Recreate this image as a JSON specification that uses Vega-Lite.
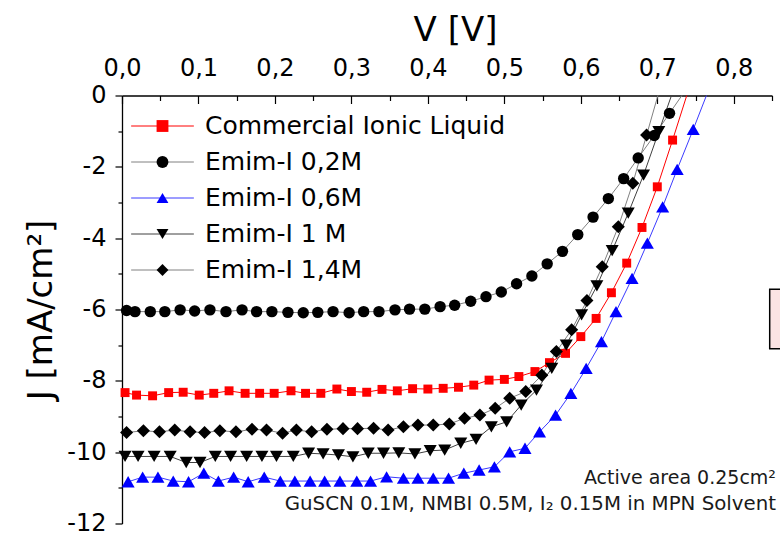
{
  "$schema": "https://vega.github.io/schema/vega-lite/v6.json",
  "width": 650,
  "height": 428,
  "autosize": {"type": "none"},
  "padding": {"left": 122, "top": 95.5, "right": 8, "bottom": 12.5},
  "background": "white",
  "config": {"view": {"stroke": null}, "font": "DejaVu Sans"},
  "datasets": {
    "jv": [
      {"s": "Commercial Ionic Liquid", "V": 0.004, "J": -8.33},
      {"s": "Commercial Ionic Liquid", "V": 0.019, "J": -8.40},
      {"s": "Commercial Ionic Liquid", "V": 0.040, "J": -8.42},
      {"s": "Commercial Ionic Liquid", "V": 0.061, "J": -8.33},
      {"s": "Commercial Ionic Liquid", "V": 0.080, "J": -8.32},
      {"s": "Commercial Ionic Liquid", "V": 0.101, "J": -8.40},
      {"s": "Commercial Ionic Liquid", "V": 0.120, "J": -8.35},
      {"s": "Commercial Ionic Liquid", "V": 0.140, "J": -8.28},
      {"s": "Commercial Ionic Liquid", "V": 0.161, "J": -8.35},
      {"s": "Commercial Ionic Liquid", "V": 0.180, "J": -8.35},
      {"s": "Commercial Ionic Liquid", "V": 0.199, "J": -8.35},
      {"s": "Commercial Ionic Liquid", "V": 0.221, "J": -8.28},
      {"s": "Commercial Ionic Liquid", "V": 0.240, "J": -8.35},
      {"s": "Commercial Ionic Liquid", "V": 0.260, "J": -8.35},
      {"s": "Commercial Ionic Liquid", "V": 0.281, "J": -8.23},
      {"s": "Commercial Ionic Liquid", "V": 0.300, "J": -8.30},
      {"s": "Commercial Ionic Liquid", "V": 0.320, "J": -8.32},
      {"s": "Commercial Ionic Liquid", "V": 0.340, "J": -8.24},
      {"s": "Commercial Ionic Liquid", "V": 0.360, "J": -8.28},
      {"s": "Commercial Ionic Liquid", "V": 0.380, "J": -8.22},
      {"s": "Commercial Ionic Liquid", "V": 0.400, "J": -8.23},
      {"s": "Commercial Ionic Liquid", "V": 0.420, "J": -8.21},
      {"s": "Commercial Ionic Liquid", "V": 0.440, "J": -8.18},
      {"s": "Commercial Ionic Liquid", "V": 0.460, "J": -8.12},
      {"s": "Commercial Ionic Liquid", "V": 0.480, "J": -7.98},
      {"s": "Commercial Ionic Liquid", "V": 0.500, "J": -7.96},
      {"s": "Commercial Ionic Liquid", "V": 0.519, "J": -7.88},
      {"s": "Commercial Ionic Liquid", "V": 0.540, "J": -7.74},
      {"s": "Commercial Ionic Liquid", "V": 0.559, "J": -7.49},
      {"s": "Commercial Ionic Liquid", "V": 0.580, "J": -7.23},
      {"s": "Commercial Ionic Liquid", "V": 0.600, "J": -6.76},
      {"s": "Commercial Ionic Liquid", "V": 0.620, "J": -6.25},
      {"s": "Commercial Ionic Liquid", "V": 0.640, "J": -5.53},
      {"s": "Commercial Ionic Liquid", "V": 0.660, "J": -4.70},
      {"s": "Commercial Ionic Liquid", "V": 0.680, "J": -3.70},
      {"s": "Commercial Ionic Liquid", "V": 0.700, "J": -2.56},
      {"s": "Commercial Ionic Liquid", "V": 0.720, "J": -1.25},
      {"s": "Commercial Ionic Liquid", "V": 0.740, "J": 0.10},

      {"s": "Emim-I 0,2M", "V": 0.006, "J": -6.03},
      {"s": "Emim-I 0,2M", "V": 0.017, "J": -6.06},
      {"s": "Emim-I 0,2M", "V": 0.037, "J": -6.06},
      {"s": "Emim-I 0,2M", "V": 0.056, "J": -6.06},
      {"s": "Emim-I 0,2M", "V": 0.076, "J": -6.01},
      {"s": "Emim-I 0,2M", "V": 0.095, "J": -6.04},
      {"s": "Emim-I 0,2M", "V": 0.115, "J": -6.01},
      {"s": "Emim-I 0,2M", "V": 0.136, "J": -6.06},
      {"s": "Emim-I 0,2M", "V": 0.157, "J": -6.01},
      {"s": "Emim-I 0,2M", "V": 0.176, "J": -6.06},
      {"s": "Emim-I 0,2M", "V": 0.196, "J": -6.06},
      {"s": "Emim-I 0,2M", "V": 0.217, "J": -6.08},
      {"s": "Emim-I 0,2M", "V": 0.237, "J": -6.09},
      {"s": "Emim-I 0,2M", "V": 0.256, "J": -6.08},
      {"s": "Emim-I 0,2M", "V": 0.276, "J": -6.06},
      {"s": "Emim-I 0,2M", "V": 0.297, "J": -6.09},
      {"s": "Emim-I 0,2M", "V": 0.316, "J": -6.06},
      {"s": "Emim-I 0,2M", "V": 0.336, "J": -6.06},
      {"s": "Emim-I 0,2M", "V": 0.357, "J": -6.01},
      {"s": "Emim-I 0,2M", "V": 0.376, "J": -5.99},
      {"s": "Emim-I 0,2M", "V": 0.396, "J": -5.99},
      {"s": "Emim-I 0,2M", "V": 0.416, "J": -5.92},
      {"s": "Emim-I 0,2M", "V": 0.435, "J": -5.88},
      {"s": "Emim-I 0,2M", "V": 0.456, "J": -5.77},
      {"s": "Emim-I 0,2M", "V": 0.476, "J": -5.64},
      {"s": "Emim-I 0,2M", "V": 0.496, "J": -5.51},
      {"s": "Emim-I 0,2M", "V": 0.516, "J": -5.28},
      {"s": "Emim-I 0,2M", "V": 0.536, "J": -5.06},
      {"s": "Emim-I 0,2M", "V": 0.556, "J": -4.72},
      {"s": "Emim-I 0,2M", "V": 0.576, "J": -4.37},
      {"s": "Emim-I 0,2M", "V": 0.596, "J": -3.90},
      {"s": "Emim-I 0,2M", "V": 0.616, "J": -3.41},
      {"s": "Emim-I 0,2M", "V": 0.636, "J": -2.89},
      {"s": "Emim-I 0,2M", "V": 0.656, "J": -2.33},
      {"s": "Emim-I 0,2M", "V": 0.675, "J": -1.75},
      {"s": "Emim-I 0,2M", "V": 0.696, "J": -1.12},
      {"s": "Emim-I 0,2M", "V": 0.716, "J": -0.50},
      {"s": "Emim-I 0,2M", "V": 0.736, "J": 0.12},

      {"s": "Emim-I 0,6M", "V": 0.008, "J": -10.83},
      {"s": "Emim-I 0,6M", "V": 0.027, "J": -10.70},
      {"s": "Emim-I 0,6M", "V": 0.047, "J": -10.70},
      {"s": "Emim-I 0,6M", "V": 0.067, "J": -10.81},
      {"s": "Emim-I 0,6M", "V": 0.087, "J": -10.83},
      {"s": "Emim-I 0,6M", "V": 0.107, "J": -10.59},
      {"s": "Emim-I 0,6M", "V": 0.126, "J": -10.81},
      {"s": "Emim-I 0,6M", "V": 0.146, "J": -10.70},
      {"s": "Emim-I 0,6M", "V": 0.165, "J": -10.83},
      {"s": "Emim-I 0,6M", "V": 0.186, "J": -10.70},
      {"s": "Emim-I 0,6M", "V": 0.207, "J": -10.81},
      {"s": "Emim-I 0,6M", "V": 0.226, "J": -10.81},
      {"s": "Emim-I 0,6M", "V": 0.246, "J": -10.81},
      {"s": "Emim-I 0,6M", "V": 0.265, "J": -10.81},
      {"s": "Emim-I 0,6M", "V": 0.285, "J": -10.81},
      {"s": "Emim-I 0,6M", "V": 0.307, "J": -10.81},
      {"s": "Emim-I 0,6M", "V": 0.325, "J": -10.81},
      {"s": "Emim-I 0,6M", "V": 0.346, "J": -10.69},
      {"s": "Emim-I 0,6M", "V": 0.368, "J": -10.73},
      {"s": "Emim-I 0,6M", "V": 0.387, "J": -10.73},
      {"s": "Emim-I 0,6M", "V": 0.407, "J": -10.73},
      {"s": "Emim-I 0,6M", "V": 0.427, "J": -10.73},
      {"s": "Emim-I 0,6M", "V": 0.447, "J": -10.59},
      {"s": "Emim-I 0,6M", "V": 0.467, "J": -10.50},
      {"s": "Emim-I 0,6M", "V": 0.487, "J": -10.41},
      {"s": "Emim-I 0,6M", "V": 0.507, "J": -9.99},
      {"s": "Emim-I 0,6M", "V": 0.527, "J": -9.89},
      {"s": "Emim-I 0,6M", "V": 0.546, "J": -9.43},
      {"s": "Emim-I 0,6M", "V": 0.567, "J": -8.96},
      {"s": "Emim-I 0,6M", "V": 0.587, "J": -8.35},
      {"s": "Emim-I 0,6M", "V": 0.607, "J": -7.65},
      {"s": "Emim-I 0,6M", "V": 0.627, "J": -6.90},
      {"s": "Emim-I 0,6M", "V": 0.646, "J": -6.06},
      {"s": "Emim-I 0,6M", "V": 0.667, "J": -5.13},
      {"s": "Emim-I 0,6M", "V": 0.687, "J": -4.14},
      {"s": "Emim-I 0,6M", "V": 0.707, "J": -3.12},
      {"s": "Emim-I 0,6M", "V": 0.726, "J": -2.07},
      {"s": "Emim-I 0,6M", "V": 0.747, "J": -0.95},
      {"s": "Emim-I 0,6M", "V": 0.767, "J": 0.15},

      {"s": "Emim-I 1 M", "V": 0.004, "J": -10.12},
      {"s": "Emim-I 1 M", "V": 0.021, "J": -10.12},
      {"s": "Emim-I 1 M", "V": 0.042, "J": -10.12},
      {"s": "Emim-I 1 M", "V": 0.063, "J": -10.12},
      {"s": "Emim-I 1 M", "V": 0.084, "J": -10.29},
      {"s": "Emim-I 1 M", "V": 0.102, "J": -10.29},
      {"s": "Emim-I 1 M", "V": 0.122, "J": -10.12},
      {"s": "Emim-I 1 M", "V": 0.142, "J": -10.12},
      {"s": "Emim-I 1 M", "V": 0.163, "J": -10.12},
      {"s": "Emim-I 1 M", "V": 0.183, "J": -10.12},
      {"s": "Emim-I 1 M", "V": 0.202, "J": -10.12},
      {"s": "Emim-I 1 M", "V": 0.224, "J": -10.12},
      {"s": "Emim-I 1 M", "V": 0.244, "J": -10.03},
      {"s": "Emim-I 1 M", "V": 0.263, "J": -10.05},
      {"s": "Emim-I 1 M", "V": 0.283, "J": -10.08},
      {"s": "Emim-I 1 M", "V": 0.302, "J": -10.13},
      {"s": "Emim-I 1 M", "V": 0.322, "J": -10.03},
      {"s": "Emim-I 1 M", "V": 0.342, "J": -10.03},
      {"s": "Emim-I 1 M", "V": 0.362, "J": -10.02},
      {"s": "Emim-I 1 M", "V": 0.383, "J": -10.05},
      {"s": "Emim-I 1 M", "V": 0.403, "J": -9.96},
      {"s": "Emim-I 1 M", "V": 0.422, "J": -9.94},
      {"s": "Emim-I 1 M", "V": 0.443, "J": -9.75},
      {"s": "Emim-I 1 M", "V": 0.463, "J": -9.64},
      {"s": "Emim-I 1 M", "V": 0.483, "J": -9.29},
      {"s": "Emim-I 1 M", "V": 0.503, "J": -9.15},
      {"s": "Emim-I 1 M", "V": 0.522, "J": -8.68},
      {"s": "Emim-I 1 M", "V": 0.542, "J": -8.26},
      {"s": "Emim-I 1 M", "V": 0.562, "J": -7.65},
      {"s": "Emim-I 1 M", "V": 0.581, "J": -7.00},
      {"s": "Emim-I 1 M", "V": 0.601, "J": -6.15},
      {"s": "Emim-I 1 M", "V": 0.621, "J": -5.34},
      {"s": "Emim-I 1 M", "V": 0.641, "J": -4.35},
      {"s": "Emim-I 1 M", "V": 0.662, "J": -3.30},
      {"s": "Emim-I 1 M", "V": 0.682, "J": -2.23},
      {"s": "Emim-I 1 M", "V": 0.702, "J": -1.01},
      {"s": "Emim-I 1 M", "V": 0.722, "J": 0.21},

      {"s": "Emim-I 1,4M", "V": 0.006, "J": -9.45},
      {"s": "Emim-I 1,4M", "V": 0.028, "J": -9.40},
      {"s": "Emim-I 1,4M", "V": 0.049, "J": -9.43},
      {"s": "Emim-I 1,4M", "V": 0.069, "J": -9.38},
      {"s": "Emim-I 1,4M", "V": 0.089, "J": -9.43},
      {"s": "Emim-I 1,4M", "V": 0.108, "J": -9.45},
      {"s": "Emim-I 1,4M", "V": 0.128, "J": -9.40},
      {"s": "Emim-I 1,4M", "V": 0.149, "J": -9.43},
      {"s": "Emim-I 1,4M", "V": 0.170, "J": -9.36},
      {"s": "Emim-I 1,4M", "V": 0.189, "J": -9.38},
      {"s": "Emim-I 1,4M", "V": 0.210, "J": -9.47},
      {"s": "Emim-I 1,4M", "V": 0.228, "J": -9.38},
      {"s": "Emim-I 1,4M", "V": 0.248, "J": -9.43},
      {"s": "Emim-I 1,4M", "V": 0.268, "J": -9.36},
      {"s": "Emim-I 1,4M", "V": 0.289, "J": -9.34},
      {"s": "Emim-I 1,4M", "V": 0.308, "J": -9.34},
      {"s": "Emim-I 1,4M", "V": 0.329, "J": -9.33},
      {"s": "Emim-I 1,4M", "V": 0.348, "J": -9.38},
      {"s": "Emim-I 1,4M", "V": 0.368, "J": -9.29},
      {"s": "Emim-I 1,4M", "V": 0.387, "J": -9.24},
      {"s": "Emim-I 1,4M", "V": 0.407, "J": -9.24},
      {"s": "Emim-I 1,4M", "V": 0.428, "J": -9.21},
      {"s": "Emim-I 1,4M", "V": 0.448, "J": -9.05},
      {"s": "Emim-I 1,4M", "V": 0.468, "J": -8.96},
      {"s": "Emim-I 1,4M", "V": 0.488, "J": -8.77},
      {"s": "Emim-I 1,4M", "V": 0.507, "J": -8.49},
      {"s": "Emim-I 1,4M", "V": 0.528, "J": -8.30},
      {"s": "Emim-I 1,4M", "V": 0.549, "J": -7.84},
      {"s": "Emim-I 1,4M", "V": 0.568, "J": -7.18},
      {"s": "Emim-I 1,4M", "V": 0.588, "J": -6.57},
      {"s": "Emim-I 1,4M", "V": 0.608, "J": -5.75},
      {"s": "Emim-I 1,4M", "V": 0.628, "J": -4.80},
      {"s": "Emim-I 1,4M", "V": 0.649, "J": -3.68},
      {"s": "Emim-I 1,4M", "V": 0.668, "J": -2.46},
      {"s": "Emim-I 1,4M", "V": 0.686, "J": -1.11},
      {"s": "Emim-I 1,4M", "V": 0.706, "J": 0.39}
    ]
  },
  "data": {"name": "jv"},
  "layer": [
    {
      "data": {"values": [{"note": "box"}]},
      "mark": {"type": "rect", "fill": "#fbe3e3", "stroke": "black", "strokeWidth": 1.5, "clip": false},
      "encoding": {
        "x": {"datum": 0.847, "type": "quantitative", "scale": {"domain": [0, 0.85], "nice": false, "zero": false}, "axis": null},
        "x2": {"datum": 0.95},
        "y": {"datum": -5.43, "type": "quantitative", "scale": {"domain": [-12, 0], "nice": false}, "axis": null},
        "y2": {"datum": -7.1}
      }
    },
    {
      "mark": {"type": "line", "clip": true, "strokeWidth": 1},
      "encoding": {
        "x": {
          "field": "V", "type": "quantitative",
          "scale": {"domain": [0, 0.85], "nice": false, "zero": false},
          "axis": {
            "orient": "top",
            "values": [0, 0.1, 0.2, 0.3, 0.4, 0.5, 0.6, 0.7, 0.8],
            "labelExpr": "replace(format(datum.value, '.1f'), '.', ',')",
            "labelFont": "DejaVu Sans", "labelFontSize": 24, "labelColor": "black",
            "labelPadding": 23, "labelFlush": false, "labelOverlap": false,
            "tickSize": -8, "tickColor": "black", "tickWidth": 1.2,
            "domainColor": "black", "domainWidth": 1.3, "grid": false,
            "title": "V [V]", "titleFont": "DejaVu Sans", "titleFontSize": 34,
            "titleFontWeight": "normal", "titleColor": "black", "titlePadding": 9, "titleX": 333
          }
        },
        "y": {
          "field": "J", "type": "quantitative",
          "scale": {"domain": [-12, 0], "nice": false},
          "axis": {
            "orient": "left",
            "values": [0, -2, -4, -6, -8, -10, -12],
            "labelExpr": "datum.value + ''",
            "labelFont": "DejaVu Sans", "labelFontSize": 24, "labelColor": "black",
            "labelPadding": 9, "labelFlush": false, "labelOverlap": false,
            "tickSize": 7, "tickColor": "black", "tickWidth": 1.2,
            "domainColor": "black", "domainWidth": 1.3, "grid": false,
            "title": "J [mA/cm²]", "titleFont": "DejaVu Sans", "titleFontSize": 34,
            "titleFontWeight": "normal", "titleColor": "black", "titlePadding": 8
          }
        },
        "stroke": {
          "field": "s", "type": "nominal",
          "scale": {"range": ["#ff0000", "#808080", "#3b3bff", "#404040", "#808080"]},
          "legend": {
            "orient": "none", "legendX": 10, "legendY": 18, "title": null, "padding": 0,
            "symbolType": "M-5.3,0H5.3", "symbolSize": 140, "symbolStrokeWidth": 1,
            "symbolOffset": 18, "labelOffset": 30, "labelLimit": 400,
            "labelFontSize": 25, "labelOpacity": 0, "rowPadding": 10
          }
        },
        "strokeWidth": {
          "condition": {"test": "datum.s === 'Commercial Ionic Liquid'", "value": 1.6},
          "value": 0.9
        }
      }
    },
    {
      "mark": {"type": "point", "filled": true, "opacity": 1, "strokeWidth": 0},
      "transform": [{"filter": "datum.J <= 0"}],
      "encoding": {
        "x": {
          "field": "V", "type": "quantitative",
          "axis": {
            "orient": "top",
            "values": [0.05, 0.15, 0.25, 0.35, 0.45, 0.55, 0.65, 0.75, 0.85],
            "labels": false, "domain": false, "grid": false, "title": null,
            "tickSize": -5, "tickColor": "black", "tickWidth": 1.2
          }
        },
        "y": {
          "field": "J", "type": "quantitative",
          "axis": {
            "orient": "left",
            "values": [-1, -3, -5, -7, -9, -11],
            "labels": false, "domain": false, "grid": false, "title": null,
            "tickSize": 4, "tickColor": "black", "tickWidth": 1.2
          }
        },
        "fill": {
          "field": "s", "type": "nominal",
          "scale": {
            "domain": ["Commercial Ionic Liquid", "Emim-I 0,2M", "Emim-I 0,6M", "Emim-I 1 M", "Emim-I 1,4M"],
            "range": ["#ff0000", "#000000", "#0000ff", "#000000", "#000000"]
          },
          "legend": {
            "orient": "none", "legendX": 10, "legendY": 18, "title": null, "padding": 0,
            "symbolSize": 140, "symbolStrokeWidth": 0, "symbolOffset": 18, "labelOffset": 30, "labelLimit": 400,
            "labelFont": "DejaVu Sans", "labelFontSize": 25, "labelColor": "black", "rowPadding": 10,
            "encoding": {
              "labels": {"update": {"fill": {"signal": "datum.label === 'Emim-I 0,6M' ? '#0000ff' : '#000000'"}}}
            }
          }
        },
        "shape": {
          "field": "s", "type": "nominal",
          "scale": {
            "domain": ["Commercial Ionic Liquid", "Emim-I 0,2M", "Emim-I 0,6M", "Emim-I 1 M", "Emim-I 1,4M"],
            "range": ["square", "circle", "triangle-up", "triangle-down", "diamond"]
          },
          "legend": {
            "orient": "none", "legendX": 10, "legendY": 18, "title": null, "padding": 0,
            "symbolSize": 140, "symbolStrokeWidth": 0, "symbolOffset": 18, "labelOffset": 30, "labelLimit": 400,
            "labelFont": "DejaVu Sans", "labelFontSize": 25, "labelColor": "black", "rowPadding": 10,
            "encoding": {
              "labels": {"update": {"fill": {"signal": "datum.label === 'Emim-I 0,6M' ? '#0000ff' : '#000000'"}}}
            }
          }
        },
        "size": {
          "condition": [
            {"test": "datum.s === 'Commercial Ionic Liquid'", "value": 80},
            {"test": "datum.s === 'Emim-I 0,2M'", "value": 130}
          ],
          "value": 170
        }
      }
    },
    {
      "data": {"values": [{"note": "area"}]},
      "mark": {"type": "text", "align": "right", "baseline": "alphabetic", "font": "DejaVu Sans", "fontSize": 19, "fill": "#1a1a1a", "dx": 4},
      "encoding": {
        "x": {"datum": 0.85, "type": "quantitative", "axis": null},
        "y": {"datum": -10.89, "type": "quantitative", "axis": null},
        "text": {"value": "Active area 0.25cm²"}
      }
    },
    {
      "data": {"values": [{"note": "electrolyte"}]},
      "mark": {"type": "text", "align": "right", "baseline": "alphabetic", "font": "DejaVu Sans", "fontSize": 19.8, "fill": "#1a1a1a", "dx": 4},
      "encoding": {
        "x": {"datum": 0.85, "type": "quantitative", "axis": null},
        "y": {"datum": -11.62, "type": "quantitative", "axis": null},
        "text": {"value": "GuSCN 0.1M, NMBI 0.5M, I₂ 0.15M in MPN Solvent"}
      }
    }
  ],
  "resolve": {"axis": {"x": "independent", "y": "independent"}}
}
